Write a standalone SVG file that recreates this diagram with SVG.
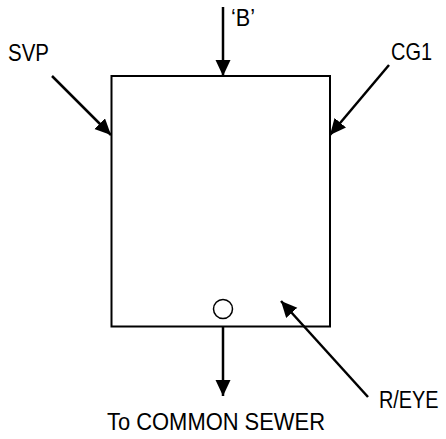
<svg xmlns="http://www.w3.org/2000/svg" width="446" height="439" viewBox="0 0 446 439">
<style>
.ln{stroke:#000;stroke-width:2.5;fill:none}
.box{stroke:#000;stroke-width:2;fill:#fff}
.t{font-family:"Liberation Sans",Arial,sans-serif;font-size:24.5px;fill:#000}
</style>
<defs>
<marker id="ah" markerUnits="userSpaceOnUse" markerWidth="17" markerHeight="16" refX="16" refY="7.5" orient="auto">
<path d="M0,0 L16,7.5 L0,15 z" fill="#000"/>
</marker>
</defs>
<rect width="446" height="439" fill="#fff"/>
<g id="tank">
<rect class="box" x="111.5" y="76" width="218.5" height="250.5"/>
<circle cx="223" cy="309" r="9.5" fill="#fff" stroke="#000" stroke-width="1.5"/>
</g>
<g id="connectors">
<line class="ln" x1="223" y1="7" x2="223" y2="76" marker-end="url(#ah)"/>
<line class="ln" x1="52" y1="76" x2="111" y2="135" marker-end="url(#ah)"/>
<line class="ln" x1="389" y1="65" x2="330" y2="135" marker-end="url(#ah)"/>
<line class="ln" x1="223" y1="327" x2="223" y2="396" marker-end="url(#ah)"/>
<line class="ln" x1="368" y1="397" x2="281" y2="301" marker-end="url(#ah)"/>
</g>
<g id="labels">
<text class="t" x="231" y="26" textLength="24" lengthAdjust="spacingAndGlyphs">‘B’</text>
<text class="t" x="8" y="61" textLength="41" lengthAdjust="spacingAndGlyphs">SVP</text>
<text class="t" x="391" y="60" textLength="41" lengthAdjust="spacingAndGlyphs">CG1</text>
<text class="t" transform="translate(379,408) scale(0.81,1)" x="0" y="0">R/EYE</text>
<text class="t" x="107" y="430" textLength="218" lengthAdjust="spacingAndGlyphs">To COMMON SEWER</text>
</g>
</svg>
